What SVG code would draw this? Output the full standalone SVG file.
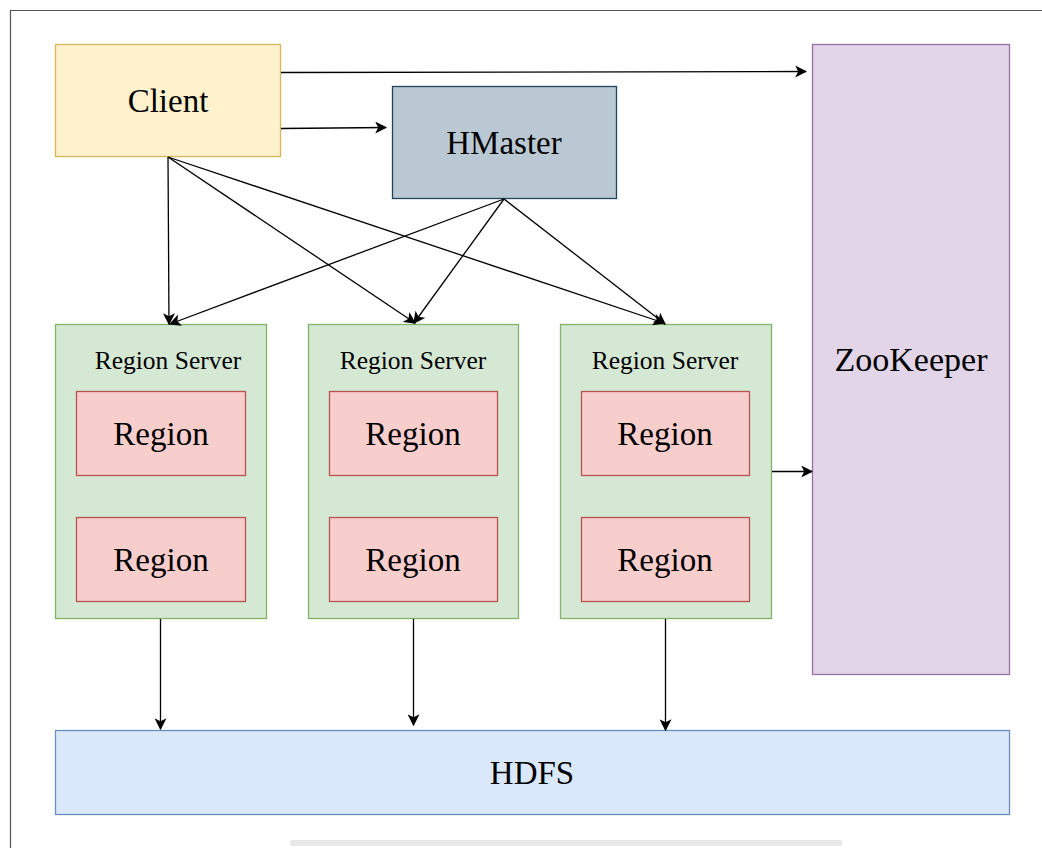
<svg xmlns="http://www.w3.org/2000/svg" width="1042" height="848" viewBox="0 0 1042 848">
  <style>
    text { font-family: "Liberation Serif", "Times New Roman", serif; fill: #000; text-anchor: middle; dominant-baseline: central; }
    .conn { stroke: #000; stroke-width: 1.3; fill: none; marker-end: url(#arrow); }
    .rs { fill: #d5e8d4; stroke: #82b366; stroke-width: 1.3; }
    .rg { fill: #f8cecc; stroke: #b85450; stroke-width: 1.3; }
    .big { font-size: 33px; }
    .rsl { font-size: 25.5px; }
  </style>
  <defs>
    <marker id="arrow" viewBox="0 0 10 10" refX="9" refY="5" markerWidth="12" markerHeight="12" markerUnits="userSpaceOnUse" orient="auto">
      <path d="M0,0 L10,5 L0,10 L2.5,5 Z" fill="#000"/>
    </marker>
  </defs>
  <rect width="1042" height="848" fill="#fff"/>
  <!-- page frame -->
  <path d="M10.5,848 V10.5 H1042" fill="none" stroke="#555" stroke-width="1.2"/>
  <rect x="290" y="840" width="552" height="6" rx="2" fill="#e8e8e8"/>

  <g id="client">
    <rect x="55.5" y="44.5" width="225" height="112" fill="#fff2cc" stroke="#d6b656" stroke-width="1.3"/>
    <text class="big" x="168" y="101">Client</text>
  </g>
  <g id="hmaster">
    <rect x="392.5" y="86.5" width="224" height="112" fill="#bac8d3" stroke="#23445d" stroke-width="1.3"/>
    <text class="big" x="504" y="143">HMaster</text>
  </g>
  <g id="zookeeper">
    <rect x="812.5" y="44.5" width="197" height="630" fill="#e1d5e7" stroke="#9673a6" stroke-width="1.3"/>
    <text x="911" y="359" style="font-size:34px">ZooKeeper</text>
  </g>

  <g id="rs1">
    <rect class="rs" x="55.5" y="324.5" width="211" height="294"/>
    <text class="rsl" x="168" y="360">Region Server</text>
    <g id="rs1-r1"><rect class="rg" x="76.5" y="391.5" width="169" height="84"/><text class="big" x="161" y="434">Region</text></g>
    <g id="rs1-r2"><rect class="rg" x="76.5" y="517.5" width="169" height="84"/><text class="big" x="161" y="560">Region</text></g>
  </g>
  <g id="rs2">
    <rect class="rs" x="308.5" y="324.5" width="210" height="294"/>
    <text class="rsl" x="413" y="360">Region Server</text>
    <g id="rs2-r1"><rect class="rg" x="329.5" y="391.5" width="168" height="84"/><text class="big" x="413" y="434">Region</text></g>
    <g id="rs2-r2"><rect class="rg" x="329.5" y="517.5" width="168" height="84"/><text class="big" x="413" y="560">Region</text></g>
  </g>
  <g id="rs3">
    <rect class="rs" x="560.5" y="324.5" width="211" height="294"/>
    <text class="rsl" x="665" y="360">Region Server</text>
    <g id="rs3-r1"><rect class="rg" x="581.5" y="391.5" width="168" height="84"/><text class="big" x="665" y="434">Region</text></g>
    <g id="rs3-r2"><rect class="rg" x="581.5" y="517.5" width="168" height="84"/><text class="big" x="665" y="560">Region</text></g>
  </g>

  <g id="hdfs">
    <rect x="55.5" y="730.5" width="954" height="84" fill="#dae8fc" stroke="#6c8ebf" stroke-width="1.3"/>
    <text class="big" x="532" y="773">HDFS</text>
  </g>

  <g id="connectors">
    <line class="conn" x1="281" y1="72.5" x2="806" y2="71.5"/>
    <line class="conn" x1="281" y1="128.5" x2="386" y2="127.5"/>
    <line class="conn" x1="168" y1="157" x2="169" y2="324"/>
    <line class="conn" x1="168" y1="157" x2="415" y2="323"/>
    <line class="conn" x1="168" y1="157" x2="664" y2="323"/>
    <line class="conn" x1="504" y1="199" x2="170" y2="324"/>
    <line class="conn" x1="504" y1="199" x2="414" y2="323"/>
    <line class="conn" x1="504" y1="199" x2="665" y2="324"/>
    <line class="conn" x1="772" y1="471.5" x2="812" y2="471.5"/>
    <line class="conn" x1="160.5" y1="619" x2="160.5" y2="729"/>
    <line class="conn" x1="413.5" y1="619" x2="413.5" y2="725"/>
    <line class="conn" x1="665.5" y1="619" x2="665.5" y2="730"/>
  </g>
</svg>
